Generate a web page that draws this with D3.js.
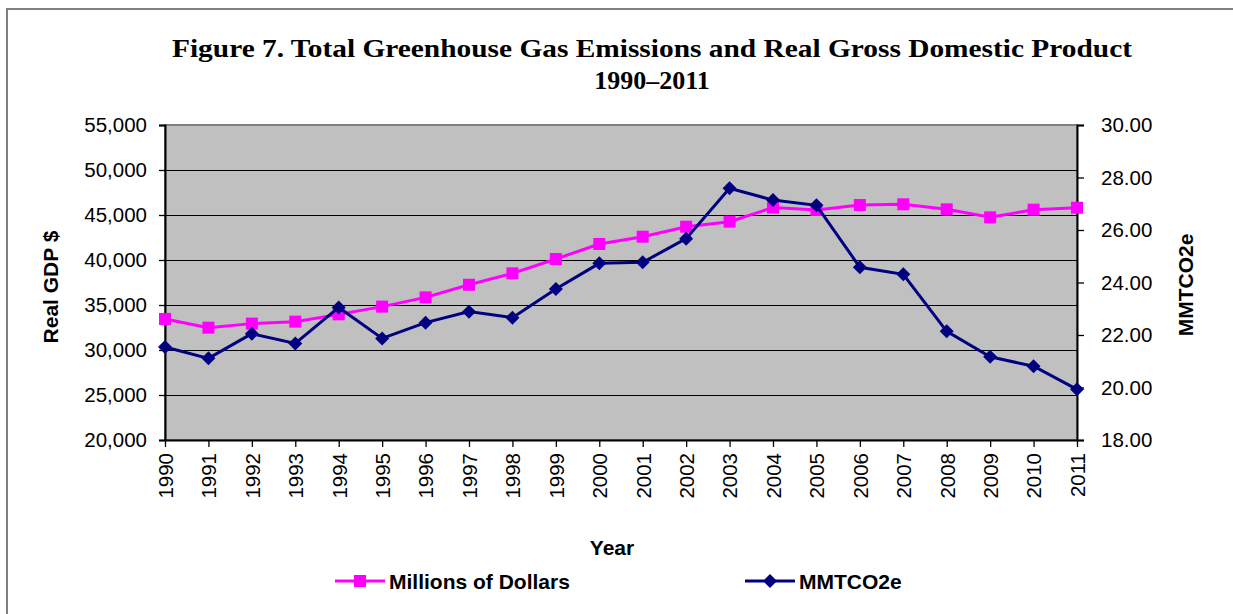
<!DOCTYPE html>
<html>
<head>
<meta charset="utf-8">
<script src="https://cdn.jsdelivr.net/npm/d3@7"></script>
<style>
  html, body { margin: 0; padding: 0; background: #fff; }
  svg { display: block; }
</style>
</head>
<body>
<svg id="chart" width="1233" height="614"></svg>
<script>
const years = [1990,1991,1992,1993,1994,1995,1996,1997,1998,1999,2000,2001,2002,2003,2004,2005,2006,2007,2008,2009,2010,2011];
const gdp = [33450,32480,32930,33150,33960,34820,35850,37250,38520,40110,41780,42590,43700,44260,45830,45560,46110,46190,45630,44740,45590,45810];
const mmtco2e = [21.54,21.11,22.05,21.68,23.05,21.87,22.47,22.89,22.66,23.75,24.73,24.77,25.67,27.59,27.14,26.94,24.58,24.31,22.14,21.17,20.81,19.93];
const leftTicks = [20000,25000,30000,35000,40000,45000,50000,55000];
const rightTicks = [18,20,22,24,26,28,30];
const titleLines = ["Figure 7. Total Greenhouse Gas Emissions and Real Gross Domestic Product", "1990\u20132011"];
const seriesNames = ["Millions of Dollars", "MMTCO2e"];

const svg = d3.select("#chart");
const L = 165, R = 1077, T = 125, B = 440;
const sans = "'Liberation Sans', Arial, sans-serif";

// outer border
svg.append("path").attr("d", `M7,640 V9 H1300`).attr("fill","none").attr("stroke","#808080").attr("stroke-width",2);

const x = d3.scalePoint().domain(years).range([L, R]);
const yL = d3.scaleLinear().domain([20000, 55000]).range([B, T]);
const yR = d3.scaleLinear().domain([18, 30]).range([B, T]);

// plot area
svg.append("rect").attr("x", L).attr("y", T).attr("width", R - L).attr("height", B - T)
  .attr("fill", "#C0C0C0").attr("stroke", "#808080").attr("stroke-width", 2);

// gridlines
svg.append("g").selectAll("line").data(leftTicks.filter(v => v > 20000 && v < 55000)).join("line")
  .attr("x1", L).attr("x2", R).attr("y1", d => Math.round(yL(d)) + 0.5).attr("y2", d => Math.round(yL(d)) + 0.5)
  .attr("stroke", "#000").attr("stroke-width", 1);

// axes
const fmtL = d3.format(",");
const axL = svg.append("g").attr("transform", `translate(${L},0)`)
  .call(d3.axisLeft(yL).tickValues(leftTicks).tickFormat(fmtL).tickSize(6).tickPadding(12));
const axR = svg.append("g").attr("transform", `translate(${R},0)`)
  .call(d3.axisRight(yR).tickValues(rightTicks).tickFormat(d3.format(".2f")).tickSize(7).tickPadding(17));
const axB = svg.append("g").attr("transform", `translate(0,${B})`)
  .call(d3.axisBottom(x).tickSize(7).tickSizeOuter(0));
axB.selectAll("text").attr("transform", "rotate(-90)").attr("x", -13).attr("y", 0).attr("dy", "0.36em").style("text-anchor", "end");

[axL, axR, axB].forEach(a => {
  a.selectAll("path.domain").attr("stroke", "#000").attr("stroke-width", 2);
  a.selectAll(".tick line").attr("stroke", "#000").attr("stroke-width", 1.3);
  a.selectAll("text").attr("fill", "#000").style("font-family", sans).style("font-size", "20.5px");
});

// series
const lineG = d3.line().x((d, i) => x(years[i])).y(d => yL(d));
const lineC = d3.line().x((d, i) => x(years[i])).y(d => yR(d));
const pink = "#FF00FF", navy = "#000080";

svg.append("path").datum(gdp).attr("d", lineG).attr("fill", "none").attr("stroke", pink).attr("stroke-width", 3);
svg.append("g").selectAll("rect").data(gdp).join("rect")
  .attr("x", (d, i) => x(years[i]) - 6).attr("y", d => yL(d) - 6).attr("width", 12).attr("height", 12).attr("fill", pink);

svg.append("path").datum(mmtco2e).attr("d", lineC).attr("fill", "none").attr("stroke", navy).attr("stroke-width", 3);
const diamond = "M0,-7 L7,0 L0,7 L-7,0 Z";
svg.append("g").selectAll("path").data(mmtco2e).join("path")
  .attr("transform", (d, i) => `translate(${x(years[i])},${yR(d)})`).attr("d", diamond).attr("fill", navy);

// title
const title = svg.append("g").style("font-family", "'Liberation Serif', 'Times New Roman', serif")
  .style("font-weight", "bold").style("font-size", "26px").attr("fill", "#000");
title.append("text").attr("x", 652).attr("y", 57).attr("text-anchor", "middle").text(titleLines[0])
  .attr("textLength", 960).attr("lengthAdjust", "spacingAndGlyphs");
title.append("text").attr("x", 652).attr("y", 89).attr("text-anchor", "middle").text(titleLines[1]);

// axis titles
const bold = 21;
svg.append("text").attr("transform", "translate(58,287) rotate(-90)").attr("text-anchor", "middle")
  .style("font-family", sans).style("font-weight", "bold").style("font-size", bold + "px").text("Real GDP $");
svg.append("text").attr("transform", "translate(1193,285) rotate(-90)").attr("text-anchor", "middle")
  .style("font-family", sans).style("font-weight", "bold").style("font-size", bold + "px").text("MMTCO2e");
svg.append("text").attr("x", 612).attr("y", 555).attr("text-anchor", "middle")
  .style("font-family", sans).style("font-weight", "bold").style("font-size", bold + "px").text("Year");

// legend
const legend = [
  { name: seriesNames[0], color: pink, x0: 335, marker: "square" },
  { name: seriesNames[1], color: navy, x0: 745, marker: "diamond" }
];
const lg = svg.append("g").selectAll("g").data(legend).join("g").attr("transform", d => `translate(${d.x0},581)`);
lg.append("line").attr("x1", 0).attr("x2", 50).attr("y1", 0).attr("y2", 0).attr("stroke", d => d.color).attr("stroke-width", 3);
lg.append("path").attr("transform", "translate(25,0)")
  .attr("d", d => d.marker === "square" ? "M-6,-6 H6 V6 H-6 Z" : diamond).attr("fill", d => d.color);
lg.append("text").attr("x", 54).attr("y", 0).attr("dy", "0.36em")
  .style("font-family", sans).style("font-weight", "bold").style("font-size", bold + "px").attr("fill", "#000").text(d => d.name);
</script>
</body>
</html>
